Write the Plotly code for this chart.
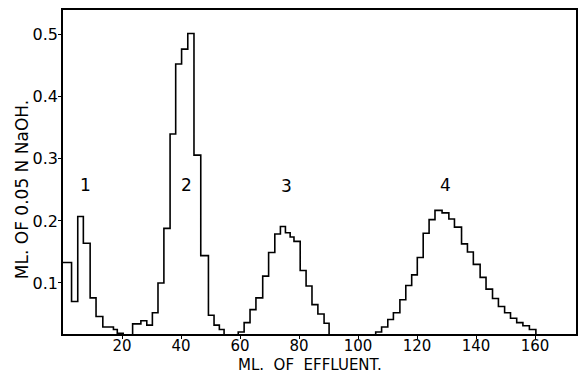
import plotly.graph_objects as go

# Fraction boundaries (ml of effluent) and titre of each fraction (ml 0.05 N NaOH)
edges = [0, 2.9, 5.0, 6.9, 9.2, 11.2, 13.5, 17.1, 18.4, 20.4,
         23.6, 26.4, 28.4, 30.3, 32.2, 34.2, 36.3, 38.2, 40.2, 42.3, 44.4, 46.7, 49.3, 51.2, 53.0,
         54.6, 59.4, 61.4, 63.4, 65.4, 67.7, 69.7, 71.8, 73.7, 75.4, 77.0, 78.3, 80.4, 82.4, 84.4, 86.4, 88.5,
         90.2, 106.0, 108.0, 110.1, 112.0, 114.2, 116.2, 118.2, 120.1, 122.1, 124.1, 126.1, 128.5, 130.8,
         132.7, 135.1, 137.1, 139.1, 141.4, 143.4, 145.6, 147.6, 149.7, 151.7, 153.8, 155.9, 158.1, 160.3]
values = [0.133, 0.070, 0.207, 0.164, 0.076, 0.046, 0.029, 0.025, 0.019,
          0.0,
          0.034, 0.039, 0.032, 0.052, 0.100, 0.188, 0.340, 0.453, 0.477, 0.502, 0.306, 0.144, 0.048, 0.032, 0.025,
          0.0,
          0.021, 0.036, 0.057, 0.076, 0.111, 0.149, 0.179, 0.191, 0.181, 0.174, 0.167, 0.120, 0.095, 0.065, 0.050, 0.035,
          0.0,
          0.021, 0.029, 0.041, 0.052, 0.073, 0.096, 0.113, 0.141, 0.180, 0.202, 0.217, 0.213, 0.203, 0.190,
          0.163, 0.150, 0.130, 0.109, 0.090, 0.075, 0.062, 0.052, 0.043, 0.036, 0.031, 0.025]

peak_labels = ["1", "2", "3", "4"]
peak_x = [7.5, 41.7, 75.8, 129.8]
peak_y = [0.258, 0.258, 0.256, 0.258]

x_ticks = [20, 40, 60, 80, 100, 120, 140, 160]
y_ticks = [0.1, 0.2, 0.3, 0.4, 0.5]
y_tick_text = ["0.1", "0.2", "0.3", "0.4", "0.5"]

assert len(edges) == len(values) + 1

FONT = "DejaVu Sans"

fig = go.Figure()
fig.add_trace(go.Scatter(
    x=edges, y=values + [0.0],
    mode="lines", line=dict(shape="hv", color="black", width=1.6),
    showlegend=False, hoverinfo="skip"))

for t, xx, yy in zip(peak_labels, peak_x, peak_y):
    fig.add_annotation(x=xx, y=yy, text=t, showarrow=False,
                       font=dict(family=FONT, size=17, color="black"))

fig.add_annotation(xref="paper", yref="paper", x=0, y=0.444, xshift=-41,
                   xanchor="center", yanchor="middle",
                   text="ML. OF 0.05 N NaOH.", textangle=-90, showarrow=False,
                   font=dict(family=FONT, size=17, color="black"))
fig.add_annotation(xref="paper", yref="paper", x=0.481, y=0, yshift=-31,
                   xanchor="center", yanchor="middle",
                   text="ML.\u00a0 OF\u00a0 EFFLUENT.", showarrow=False,
                   font=dict(family=FONT, size=15, color="black"))

fig.update_layout(
    width=581, height=379,
    margin=dict(l=63, r=5, t=10, b=45, autoexpand=False),
    paper_bgcolor="white", plot_bgcolor="white",
    font=dict(family=FONT, size=15, color="black"),
)
fig.update_xaxes(range=[0, 173.9], tickvals=x_ticks, ticks="outside", ticklen=3,
                 tickcolor="black", showline=True, linecolor="black", linewidth=1.5,
                 mirror=True, showgrid=False, zeroline=False, ticklabelstandoff=-6,
                 tickfont=dict(family=FONT, size=15))
fig.update_yaxes(range=[0.0177, 0.540], tickvals=y_ticks, ticktext=y_tick_text,
                 ticks="outside", ticklen=3, tickcolor="black", ticklabelstandoff=-3,
                 showline=True, linecolor="black", linewidth=1.5, mirror=True,
                 showgrid=False, zeroline=False, tickfont=dict(family=FONT, size=16))

fig.write_html("out.html", config={"displayModeBar": False},
               post_script="document.body.style.margin='0';")
